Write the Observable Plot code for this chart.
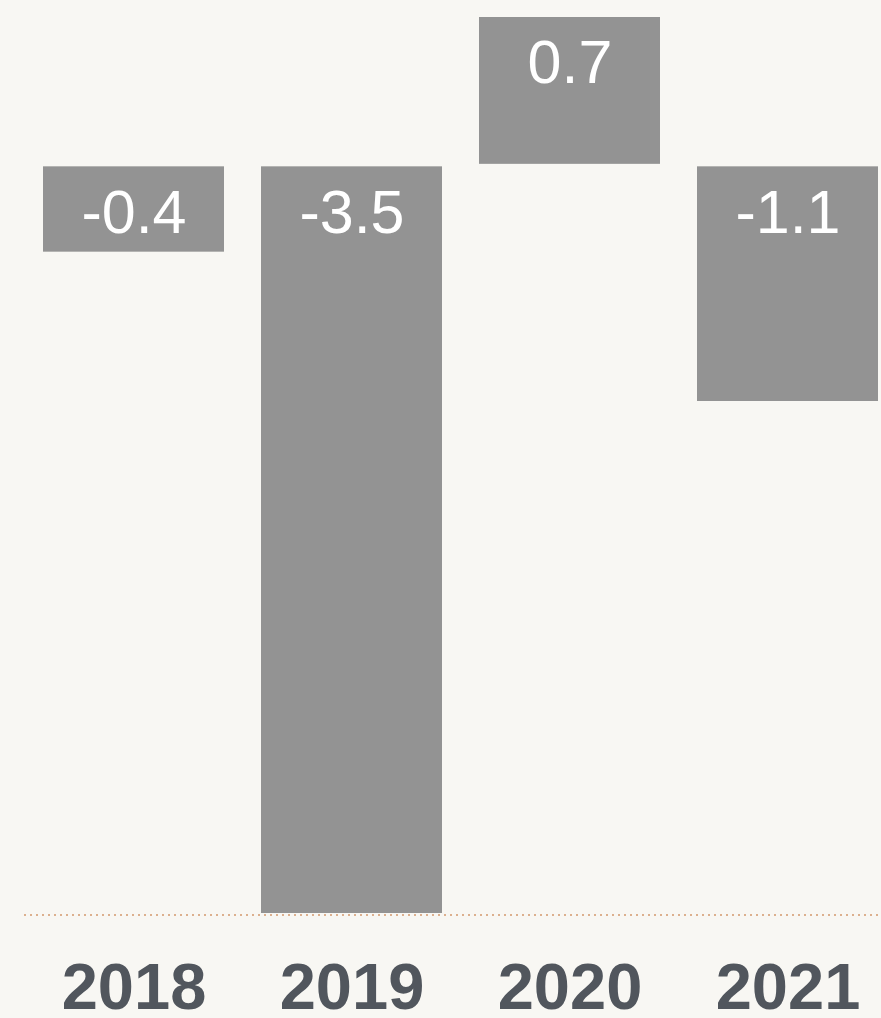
<!DOCTYPE html>
<html>
<head>
<meta charset="utf-8">
<script src="https://cdn.jsdelivr.net/npm/d3@7"></script>
<script src="https://cdn.jsdelivr.net/npm/@observablehq/plot@0.6"></script>
<style>
  html, body { margin: 0; padding: 0; background: #f8f7f3; overflow: hidden; }
</style>
</head>
<body>
<div id="chart"></div>
<script>
const years = ["2018", "2019", "2020", "2021"];
const values = [-0.4, -3.5, 0.7, -1.1];

const data = years.map((year, i) => ({year, value: values[i]}));
const font = "Helvetica, 'Liberation Sans', Arial, sans-serif";

const chart = Plot.plot({
  width: 881,
  height: 1018,
  marginTop: 17,
  marginBottom: 105,
  marginLeft: 24,
  marginRight: 0,
  style: {background: "#f8f7f3", fontFamily: font, overflow: "hidden"},
  x: {domain: years, range: [24, 898], paddingInner: 0.168, paddingOuter: 0.082, label: null},
  y: {domain: [-3.5, 0.7], axis: null},
  marks: [
    Plot.barY(data.filter(d => d.value < 0), {x: "year", y: "value", fill: "#939393"}),
    Plot.barY(data.filter(d => d.value >= 0), {x: "year", y: "value", fill: "#939393", insetBottom: 2.5}),
    Plot.ruleY([-3.5], {stroke: "#dcb08e", strokeWidth: 2, strokeDasharray: "2,4", dy: 1.5}),
    Plot.text(data, {
      x: "year",
      y: d => Math.max(d.value, 0),
      text: d => d.value.toFixed(1),
      fill: "white",
      fontSize: 61,
      fontWeight: "normal",
      lineAnchor: "top",
      dy: 22.5
    }),
    Plot.axisX({
      tickSize: 0,
      tickPadding: 49,
      fontSize: 65,
      fontWeight: "bold",
      fill: "#51565d",
      label: null
    })
  ]
});
document.getElementById("chart").appendChild(chart);
</script>
</body>
</html>
